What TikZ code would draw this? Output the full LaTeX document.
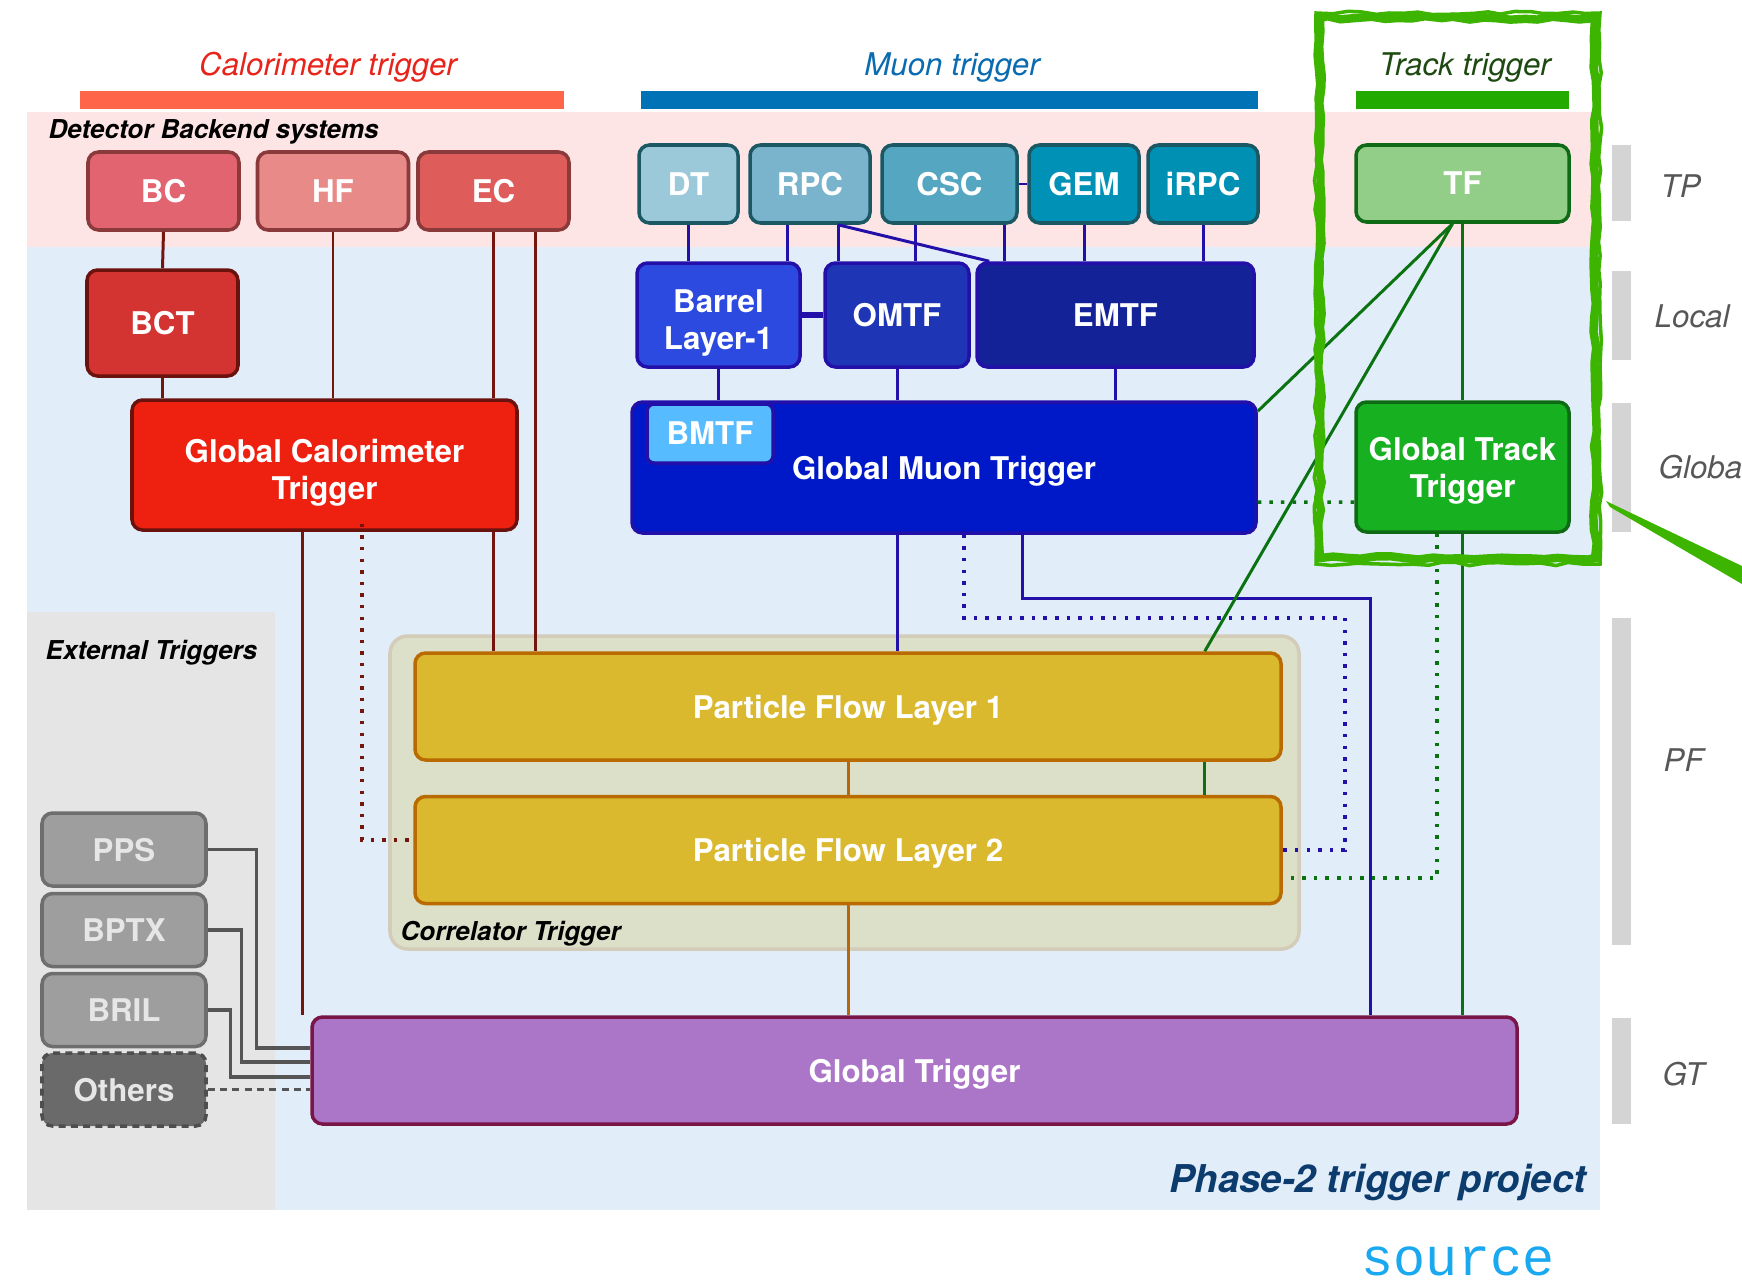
\documentclass[tikz,border=0pt]{standalone}
\usepackage{fontspec}
\setmainfont{TeX Gyre Heros}
\setmonofont{Liberation Mono}
\usepackage{tikz}
\usetikzlibrary{calc, positioning, decorations.pathmorphing}

\definecolor{calotitle}{HTML}{E8231A}
\definecolor{calobar}{HTML}{FF6549}
\definecolor{muontitle}{HTML}{0A6BB0}
\definecolor{muonbar}{HTML}{0072B5}
\definecolor{tracktitle}{HTML}{1E4A12}
\definecolor{trackbar}{HTML}{22AA00}
\definecolor{handgreen}{HTML}{3CB400}
\definecolor{bgpink}{HTML}{FDE5E5}
\definecolor{bgblue}{HTML}{E1EEF9}
\definecolor{bggray}{HTML}{E5E5E5}
\definecolor{corrfill}{HTML}{DCE0C9}
\definecolor{corrdraw}{HTML}{D3CCB8}
\definecolor{bcfill}{HTML}{E26470}
\definecolor{hffill}{HTML}{E88A88}
\definecolor{ecfill}{HTML}{DE5C5A}
\definecolor{calodraw}{HTML}{8A3A3A}
\definecolor{bctfill}{HTML}{D43431}
\definecolor{gctfill}{HTML}{EE2010}
\definecolor{gctdraw}{HTML}{6A120E}
\definecolor{calowire}{HTML}{74150E}
\definecolor{dtfill}{HTML}{9CC9D9}
\definecolor{rpcfill}{HTML}{79B4CC}
\definecolor{cscfill}{HTML}{55A6C1}
\definecolor{gemfill}{HTML}{0091B6}
\definecolor{irpcfill}{HTML}{0090B3}
\definecolor{muondraw}{HTML}{1C5764}
\definecolor{barrelfill}{HTML}{2C4ADF}
\definecolor{omtffill}{HTML}{1E35B6}
\definecolor{emtffill}{HTML}{132297}
\definecolor{gmtfill}{HTML}{0019C8}
\definecolor{bmtffill}{HTML}{56BBFF}
\definecolor{muonwire}{HTML}{2310A8}
\definecolor{tffill}{HTML}{92CE88}
\definecolor{gttfill}{HTML}{17B021}
\definecolor{trackdraw}{HTML}{0E6A14}
\definecolor{trackwire}{HTML}{0B7212}
\definecolor{pffill}{HTML}{DBB92E}
\definecolor{pfdraw}{HTML}{B96A00}
\definecolor{pfwire}{HTML}{B8660A}
\definecolor{gtfill}{HTML}{AB76C8}
\definecolor{gtdraw}{HTML}{7A1548}
\definecolor{extfill}{HTML}{9E9E9E}
\definecolor{extdraw}{HTML}{6E6E6E}
\definecolor{exttext}{HTML}{E6E6E6}
\definecolor{othersfill}{HTML}{6A6A6A}
\definecolor{othersdraw}{HTML}{4E4E4E}
\definecolor{extwire}{HTML}{555555}
\definecolor{sidebar}{HTML}{D4D4D4}
\definecolor{sidetext}{HTML}{575757}
\definecolor{phasetext}{HTML}{0C3B6E}
\definecolor{sourcetext}{HTML}{1AA8F0}

\newcommand{\boxfont}{\fontsize{8.9}{10.5}\selectfont\bfseries}
\newcommand{\titlefont}{\fontsize{8.9}{10.5}\selectfont\itshape}
\newcommand{\panelfont}{\fontsize{7.4}{9}\selectfont\bfseries\itshape}

\tikzset{
  box/.style={rectangle, rounded corners=3pt, line width=1pt, text=white, font=\boxfont, align=center, inner sep=0pt, text depth=0pt},
  calobox/.style={box, draw=calodraw, minimum width=15.1mm, minimum height=7.8mm},
  muonbox/.style={box, draw=muondraw, minimum height=7.8mm},
  lowbox/.style={box, draw=muonwire},
  trackbox/.style={box, draw=trackdraw, minimum width=21.3mm},
  pfbox/.style={box, fill=pffill, draw=pfdraw, minimum width=86.6mm, minimum height=10.7mm},
  extbox/.style={box, fill=extfill, draw=extdraw, text=exttext, minimum width=16.4mm, minimum height=7.3mm},
  caloline/.style={draw=calowire, line width=0.85pt},
  muonline/.style={draw=muonwire, line width=0.85pt},
  trackline/.style={draw=trackwire, line width=0.85pt},
  pfline/.style={draw=pfwire, line width=0.85pt},
  extline/.style={draw=extwire, line width=0.9pt},
  dots/.style={line width=1pt, dash pattern=on 1pt off 2.3pt},
  sidelabel/.style={font=\titlefont, text=sidetext, anchor=west, inner sep=0pt},
  panellabel/.style={font=\panelfont, anchor=west, inner sep=0pt},
  handbox/.style={draw=handgreen, decorate, decoration={random steps, segment length=4pt, amplitude=0.5pt}}
}

\begin{document}
\begin{tikzpicture}[x=0.1mm,y=-0.1mm,>=stealth]
\useasboundingbox (0,0) rectangle (1742,1283);
\clip (0,0) rectangle (1742,1283);
% Backgrounds
\fill[bgpink] (27,112) rectangle (1600,247);
\fill[bgblue] (27,247) rectangle (1600,1210);
\fill[bggray] (27,612) rectangle (275,1210);
\filldraw[fill=corrfill, draw=corrdraw, line width=1pt, rounded corners=5pt] (390,636) rectangle (1299,949);
% Titles and bars
\node[font=\titlefont, text=calotitle] (calotitle) at (328,67.5) {Calorimeter trigger};
\node[font=\titlefont, text=muontitle] (muontitle) at (952,67.5) {Muon trigger};
\node[font=\titlefont, text=tracktitle] (tracktitle) at (1465,67.5) {Track trigger};
\fill[calobar] (80,91) rectangle (564,109);
\fill[muonbar] (641,91) rectangle (1258,109);
\fill[trackbar] (1356,91) rectangle (1569,109);
\node[panellabel] (backend) at (48,131.5) {Detector Backend systems};
\node[panellabel] (external) at (45,652.5) {External Triggers};
\node[panellabel] (correlator) at (400,933.5) {Correlator Trigger};

% Calorimeter trigger
\node[calobox, fill=bcfill] (BC) at (163.5,191) {BC};
\node[calobox, fill=hffill] (HF) at (333,191) {HF};
\node[calobox, fill=ecfill] (EC) at (493.5,191) {EC};
\node[calobox, fill=bctfill, draw=gctdraw, minimum height=10.6mm] (BCT) at (162.5,323) {BCT};
\node[box, fill=gctfill, draw=gctdraw, minimum width=38.5mm, minimum height=13mm] (GCT) at (324.5,465) {\rule{0pt}{9pt}Global Calorimeter\\Trigger};

% Muon trigger
\node[muonbox, fill=dtfill, minimum width=9.9mm] (DT) at (688.5,184) {DT};
\node[muonbox, fill=rpcfill, minimum width=12mm] (RPC) at (810,184) {RPC};
\node[muonbox, fill=cscfill, minimum width=13.5mm] (CSC) at (949.5,184) {CSC};
\node[muonbox, fill=gemfill, minimum width=11mm] (GEM) at (1084,184) {GEM};
\node[muonbox, fill=irpcfill, minimum width=11mm] (iRPC) at (1203,184) {iRPC};
\node[lowbox, fill=barrelfill, minimum width=16.3mm, minimum height=10.4mm] (Barrel) at (718.5,315) {\rule{0pt}{9pt}Barrel\\Layer-1};
\node[lowbox, fill=omtffill, minimum width=14.4mm, minimum height=10.4mm] (OMTF) at (897,315) {OMTF};
\node[lowbox, fill=emtffill, minimum width=27.7mm, minimum height=10.4mm] (EMTF) at (1115.5,315) {EMTF};
\node[lowbox, fill=gmtfill, minimum width=62.4mm, minimum height=13.1mm] (GMT) at (944,467.5) {Global Muon Trigger};
\node[lowbox, fill=bmtffill, minimum width=12.6mm, minimum height=5.9mm, rounded corners=2pt] (BMTF) at (710,433.5) {BMTF};

% Track trigger
\node[trackbox, fill=tffill, minimum height=7.7mm] (TF) at (1462.5,183.5) {TF};
\node[trackbox, fill=gttfill, minimum height=13mm] (GTT) at (1462.5,467) {Global Track\\Trigger};

% Correlator and global trigger
\node[pfbox] (PF1) at (848,706.5) {Particle Flow Layer 1};
\node[pfbox] (PF2) at (848,850) {Particle Flow Layer 2};
\node[box, fill=gtfill, draw=gtdraw, minimum width=120.5mm, minimum height=10.7mm] (GT) at (914.5,1070.5) {Global Trigger};

% External triggers
\node[extbox] (PPS) at (124,849.5) {PPS};
\node[extbox] (BPTX) at (124,930) {BPTX};
\node[extbox] (BRIL) at (124,1010) {BRIL};
\node[extbox, fill=othersfill, draw=othersdraw, dash pattern=on 2pt off 1.5pt] (Others) at (124,1089.5) {Others};

% Calorimeter links
\draw[caloline] (BC.south) -- (BCT.north);
\draw[caloline] (BCT.south) -- (BCT.south |- GCT.north);
\draw[caloline] (HF.south) -- (HF.south |- GCT.north);
\draw[caloline] (EC.south) -- (EC.south |- GCT.north);
\draw[caloline] ($(EC.south)+(41.5,0)$) coordinate (ecout) -- (ecout |- PF1.north);
\draw[caloline] (GCT.south -| EC.south) -- (PF1.north -| EC.south);
\draw[caloline] ($(GCT.south)+(-22,0)$) coordinate (gctout) -- (gctout |- GT.north);
\draw[caloline, dots] ($(GCT.south)+(37.5,-8)$) |- ($(PF2.west)+(0,-10)$);

% Muon links
\draw[muonline] (DT.south) -- (DT.south |- Barrel.north);
\draw[muonline] ($(RPC.south)+(-23,0)$) coordinate (rpca) -- (rpca |- Barrel.north);
\draw[muonline] ($(RPC.south)+(28,0)$) coordinate (rpcb) -- (rpcb |- OMTF.north);
\draw[muonline] (rpcb) -- ($(EMTF.north west)+(14,0)$);
\draw[muonline] ($(CSC.south)+(-34.5,0)$) coordinate (csca) -- (csca |- OMTF.north);
\draw[muonline] ($(CSC.south)+(54.5,0)$) coordinate (cscb) -- (cscb |- EMTF.north);
\draw[muonline] (GEM.south) -- (GEM.south |- EMTF.north);
\draw[muonline] (iRPC.south) -- (iRPC.south |- EMTF.north);
\draw[muonline] (CSC.east) -- (GEM.west);
\draw[muonline, line width=1.6pt] (Barrel.east) -- (OMTF.west);
\draw[muonline] (Barrel.south) -- (Barrel.south |- GMT.north);
\draw[muonline] (OMTF.south) -- (OMTF.south |- GMT.north);
\draw[muonline] (EMTF.south) -- (EMTF.south |- GMT.north);
\draw[muonline] (GMT.south -| OMTF.south) -- (PF1.north -| OMTF.south);
\draw[muonline, dots] ($(GMT.south)+(20,0)$) -- ++(0,83) -| ($(PF2.east)+(62,0)$) -- (PF2.east);
\draw[muonline] ($(GMT.south)+(78,0)$) -- ++(0,64) -| ($(GT.north)+(455.5,0)$);

% Track links
\draw[trackline] (TF.south) -- (GTT.north);
\draw[trackline] ($(TF.south)+(-10,0)$) -- ($(GMT.north east)+(0,11)$);
\draw[trackline] ($(TF.south)+(-10,0)$) -- ($(PF1.north east)+(-78,0)$);
\draw[trackline] ($(PF1.south east)+(-78,0)$) -- ($(PF2.north east)+(-78,0)$);
\draw[trackline] (GTT.south) -- (GTT.south |- GT.north);
\draw[trackline, dots] ($(GMT.east)+(0,34.5)$) -- ($(GTT.west)+(0,35)$);
\draw[trackline, dots] ($(GTT.south)+(-25.5,0)$) |- ($(PF2.east)+(0,28)$);

% Particle flow links
\draw[pfline] (PF1.south) -- (PF2.north);
\draw[pfline] (PF2.south) -- (PF2.south |- GT.north);

% External links
\draw[extline] (PPS.east) -- ++(49,0) |- ($(GT.west)+(0,-22.5)$);
\draw[extline] (BPTX.east) -- ++(34,0) |- ($(GT.west)+(0,-8.5)$);
\draw[extline] (BRIL.east) -- ++(23,0) |- ($(GT.west)+(0,6.5)$);
\draw[extline, dash pattern=on 2pt off 1.5pt] (Others.east) -- (Others.east -| GT.west);

% Levels
\fill[sidebar] (1612,145) rectangle (1631,221);
\fill[sidebar] (1612,271) rectangle (1631,360);
\fill[sidebar] (1612,403) rectangle (1631,532);
\fill[sidebar] (1612,618) rectangle (1631,945);
\fill[sidebar] (1612,1018) rectangle (1631,1124);
\node[sidelabel] (levTP) at (1660,186) {TP};
\node[sidelabel] (levLocal) at (1654,316) {Local};
\node[sidelabel] (levGlobal) at (1658,467) {Global};
\node[sidelabel] (levPF) at (1663,760) {PF};
\node[sidelabel] (levGT) at (1662,1074) {GT};

% Footer
\node[font=\fontsize{10.9}{13}\selectfont\bfseries\itshape, text=phasetext, anchor=east, inner sep=0pt] (phase) at (1587,1182.5) {Phase-2 trigger project};
\node[font=\fontsize{15.2}{17}\ttfamily, text=sourcetext, inner sep=0pt] (source) at (1458,1261) {source};

% Hand drawn mark
\pgfmathsetseed{7}
\draw[handbox, line width=2.4pt] (1320,18) rectangle (1595,558);
\draw[handbox, line width=1pt] (1316,13) rectangle (1600,564);
\fill[handgreen] (1606,501) -- (1742,566) -- (1742,584) -- (1610,507) -- cycle;
\end{tikzpicture}
\end{document}
